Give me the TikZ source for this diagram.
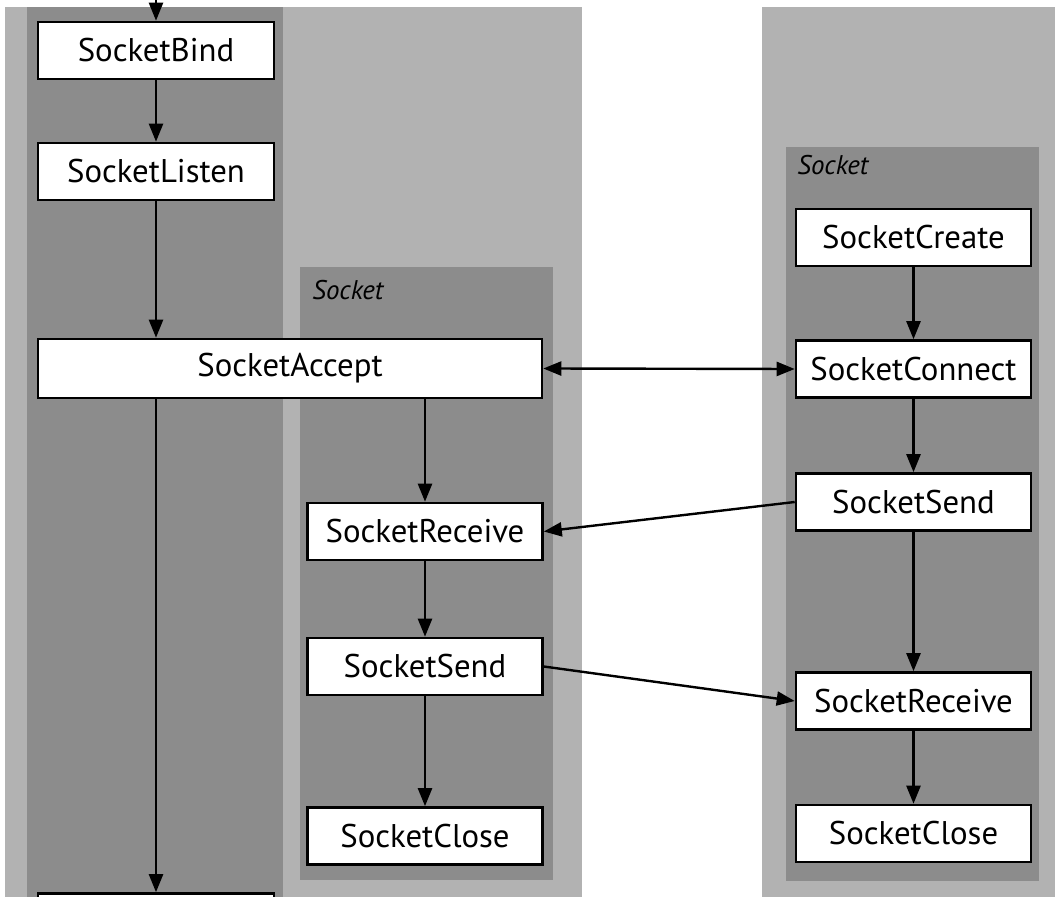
\documentclass[tikz,border=0pt]{standalone}
\usepackage{fontspec}
\setmainfont{PT Sans}
\usetikzlibrary{arrows.meta}
\definecolor{panelgray}{gray}{0.70}
\definecolor{lanegray}{gray}{0.55}
\begin{document}
\begin{tikzpicture}[x=0.5pt,y=-0.5pt,
  fnbox/.style={draw=black, fill=white, line width=1.3pt, inner sep=0pt,
    minimum width=117.5pt, minimum height=28.5pt, font=\fontsize{16.4}{19}\selectfont},
  tip/.style={Triangle[length=9pt,width=7pt]},
  flow/.style={line width=1.2pt, -{Triangle[length=9pt,width=7pt]}},
  lanelabel/.style={anchor=base west, inner sep=0pt, font=\fontsize{13.5}{16}\selectfont\itshape}]
\useasboundingbox (0,0) rectangle (1055,897);
\clip (0,0) rectangle (1055,897);

% background panels and lanes
\fill[panelgray] (5,7) rectangle (582,897);
\fill[panelgray] (762,7) rectangle (1055,897);
\fill[lanegray] (27,7) rectangle (283,897);
\fill[lanegray] (300,267) rectangle (553,880);
\fill[lanegray] (786,147) rectangle (1039,881);

\node[lanelabel] (midlabel) at (312,300) {Socket};
\node[lanelabel] (rightlabel) at (797,175) {Socket};

% server side
\coordinate (topin) at (156,0);
\node[fnbox, minimum width=118pt] (bind) at (156,50.5) {SocketBind};
\node[fnbox, minimum width=118pt] (listen) at (156,171.5) {SocketListen};
\node[fnbox, minimum width=252pt, minimum height=29.5pt] (accept) at (290,368.5) {SocketAccept};
\node[fnbox, minimum width=118pt] (next) at (156,922) {};

% accepted socket
\node[fnbox] (mrecv) at (425,531.5) {SocketReceive};
\node[fnbox] (msend) at (425,666.5) {SocketSend};
\node[fnbox] (mclose) at (425,836) {SocketClose};

% client socket
\node[fnbox] (create) at (913.5,237.5) {SocketCreate};
\node[fnbox] (connect) at (913.5,369) {SocketConnect};
\node[fnbox] (rsend) at (913.5,502) {SocketSend};
\node[fnbox] (rrecv) at (913.5,701) {SocketReceive};
\node[fnbox] (rclose) at (913.5,833.5) {SocketClose};

% connectors
\draw[flow] (topin) -- (bind);
\draw[flow] (bind) -- (listen);
\draw[flow] (listen) -- (listen |- accept.north);
\draw[flow] (listen |- accept.south) -- (next);
\draw[flow] (accept.south -| mrecv) -- (mrecv);
\draw[flow] (mrecv) -- (msend);
\draw[flow] (msend) -- (mclose);
\draw[line width=1.2pt, {Triangle[length=9pt,width=7pt]}-{Triangle[length=9pt,width=7pt]}] (accept.east) -- (connect.west);
\draw[flow] (create) -- (connect);
\draw[flow] (connect) -- (rsend);
\draw[flow] (rsend) -- (rrecv);
\draw[flow] (rrecv) -- (rclose);
\draw[flow] (rsend.west) -- (mrecv.east);
\draw[flow] (msend.east) -- (rrecv.west);
\end{tikzpicture}
\end{document}
